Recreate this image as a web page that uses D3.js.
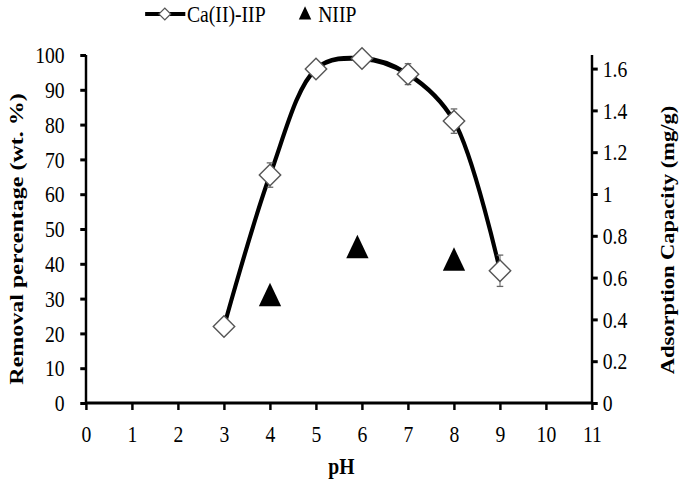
<!DOCTYPE html>
<html>
<head>
<meta charset="utf-8">
<script src="https://cdn.jsdelivr.net/npm/d3@7"></script>
<style>
  body { margin: 0; background: #fff; }
  svg { display: block; }
  text { font-family: "Liberation Serif", "Times New Roman", serif; fill: #000; }
  .axis path, .axis line { stroke: #000; stroke-width: 3; }
  .axis text { font-size: 24px; }
  .axisTitle { font-size: 23px; font-weight: bold; }
</style>
</head>
<body>
<div id="chart"></div>
<script>
// Chart data
var pH = [3, 4, 5, 6, 7, 8, 9];
var removal = [22, 65.5, 96, 99, 94.5, 81, 38];
var removalErr = [0, 3.5, 1, 1, 3, 3.5, 4.5];
var niipPH = [4, 5.9, 8];
var niipCapacity = [0.50, 0.73, 0.67];
var xTicks = [0, 1, 2, 3, 4, 5, 6, 7, 8, 9, 10, 11];
var leftTicks = [0, 10, 20, 30, 40, 50, 60, 70, 80, 90, 100];
var rightTicks = [0, 0.2, 0.4, 0.6, 0.8, 1, 1.2, 1.4, 1.6];

// The picture is squeezed sideways, so draw wider and squeeze the svg
var sx = 0.82;
var svgWidth = 685;
var svgHeight = 484;
var viewWidth = svgWidth / sx;

var Margin = { top: 55, right: viewWidth - 592 / sx, bottom: 81, left: 86 / sx };
var width = viewWidth - Margin.left - Margin.right;
var height = svgHeight - Margin.top - Margin.bottom;

var svg = d3.select("#chart")
  .append("svg")
  .attr("width", svgWidth)
  .attr("height", svgHeight)
  .attr("viewBox", `0 0 ${viewWidth} ${svgHeight}`)
  .attr("preserveAspectRatio", "none");

var chartGroup = svg.append("g")
  .attr("transform", `translate(${Margin.left}, ${Margin.top})`);

// Scales
var xScale = d3.scaleLinear().domain([0, 11]).range([0, width]);
var yLeft = d3.scaleLinear().domain([0, 100]).range([height, 0]);
var yRight = d3.scaleLinear().domain([0, 1.665]).range([height, 0]);

// Axes
var bottomAxis = d3.axisBottom(xScale).tickValues(xTicks).tickSize(7).tickPadding(15).tickFormat(d3.format("d"));
var leftAxis = d3.axisLeft(yLeft).tickValues(leftTicks).tickSize(7).tickPadding(19);
var rightAxis = d3.axisRight(yRight).tickValues(rightTicks).tickSize(7).tickPadding(6)
  .tickFormat(d => d === 0 || d === 1 ? d : d.toFixed(1));

chartGroup.append("g")
  .attr("class", "axis")
  .call(leftAxis)
  .call(g => g.select(".domain").attr("d", `M0,0V${height}`));

chartGroup.append("g")
  .attr("class", "axis")
  .attr("transform", `translate(${width}, 0)`)
  .call(rightAxis)
  .call(g => g.select(".domain").attr("d", `M0,0V${height}`));

chartGroup.append("g")
  .attr("class", "axis")
  .attr("transform", `translate(0, ${height})`)
  .call(bottomAxis)
  .call(g => g.select(".domain").attr("d", `M0,0H${width}`));

// Smoothed line for Ca(II)-IIP
var points = pH.map((p, i) => [p, removal[i]]);
var line = d3.line()
  .x(d => xScale(d[0]))
  .y(d => yLeft(d[1]))
  .curve(d3.curveCatmullRom.alpha(0.5));

chartGroup.append("path")
  .datum(points)
  .attr("d", line)
  .attr("fill", "none")
  .attr("stroke", "#000")
  .attr("stroke-width", 5);

// Error bars
var errGroup = chartGroup.selectAll(".err")
  .data(pH.map((p, i) => ({ x: p, y: removal[i], e: removalErr[i] })).filter(d => d.e > 0))
  .enter()
  .append("g")
  .attr("stroke", "#666")
  .attr("stroke-width", 1.3);

errGroup.append("line")
  .attr("x1", d => xScale(d.x)).attr("x2", d => xScale(d.x))
  .attr("y1", d => yLeft(d.y - d.e)).attr("y2", d => yLeft(d.y + d.e));
errGroup.append("line")
  .attr("x1", d => xScale(d.x) - 4).attr("x2", d => xScale(d.x) + 4)
  .attr("y1", d => yLeft(d.y - d.e)).attr("y2", d => yLeft(d.y - d.e));
errGroup.append("line")
  .attr("x1", d => xScale(d.x) - 4).attr("x2", d => xScale(d.x) + 4)
  .attr("y1", d => yLeft(d.y + d.e)).attr("y2", d => yLeft(d.y + d.e));

// Diamond markers (undo the squeeze so they stay square)
var diamond = d3.symbol().type(d3.symbolSquare).size(230);
chartGroup.selectAll(".diamond")
  .data(points)
  .enter()
  .append("path")
  .attr("d", diamond)
  .attr("transform", d => `translate(${xScale(d[0])}, ${yLeft(d[1])}) scale(${1 / sx}, 1) rotate(45)`)
  .attr("fill", "#fff")
  .attr("stroke", "#555")
  .attr("stroke-width", 1.4);

// NIIP triangles (right axis)
var tri = d3.symbol().type(d3.symbolTriangle).size(320);
chartGroup.selectAll(".tri")
  .data(niipPH.map((p, i) => [p, niipCapacity[i]]))
  .enter()
  .append("path")
  .attr("d", tri)
  .attr("transform", d => `translate(${xScale(d[0])}, ${yRight(d[1])})`)
  .attr("fill", "#000");

// Axis titles
chartGroup.append("text")
  .attr("class", "axisTitle")
  .attr("transform", "rotate(-90)")
  .attr("x", -height / 2 - 10)
  .attr("y", -Margin.left + 28)
  .attr("text-anchor", "middle")
  .style("font-size", "24px")
  .text("Removal percentage (wt. %)");

chartGroup.append("text")
  .attr("class", "axisTitle")
  .attr("transform", "rotate(-90)")
  .attr("x", -height / 2 - 11)
  .attr("y", width + 100)
  .attr("text-anchor", "middle")
  .style("font-size", "22.5px")
  .text("Adsorption Capacity (mg/g)");

chartGroup.append("text")
  .attr("class", "axisTitle")
  .attr("x", width / 2 + 3)
  .attr("y", height + 71)
  .attr("text-anchor", "middle")
  .style("font-size", "24px")
  .text("pH");

// Legend
var legend = svg.append("g").attr("transform", "translate(0, 14)");
legend.append("line")
  .attr("x1", 177).attr("x2", 226).attr("y1", 0).attr("y2", 0)
  .attr("stroke", "#000").attr("stroke-width", 4);
legend.append("path")
  .attr("d", d3.symbol().type(d3.symbolSquare).size(70))
  .attr("transform", `translate(201, 0) scale(${1 / sx}, 1) rotate(45)`)
  .attr("fill", "#fff").attr("stroke", "#555").attr("stroke-width", 1.2);
legend.append("text")
  .attr("x", 228).attr("y", 8)
  .style("font-size", "24px")
  .text("Ca(II)-IIP");
legend.append("path")
  .attr("d", d3.symbol().type(d3.symbolTriangle).size(100))
  .attr("transform", "translate(372, 1)")
  .attr("fill", "#000");
legend.append("text")
  .attr("x", 388).attr("y", 8)
  .style("font-size", "24px")
  .text("NIIP");
</script>
</body>
</html>
